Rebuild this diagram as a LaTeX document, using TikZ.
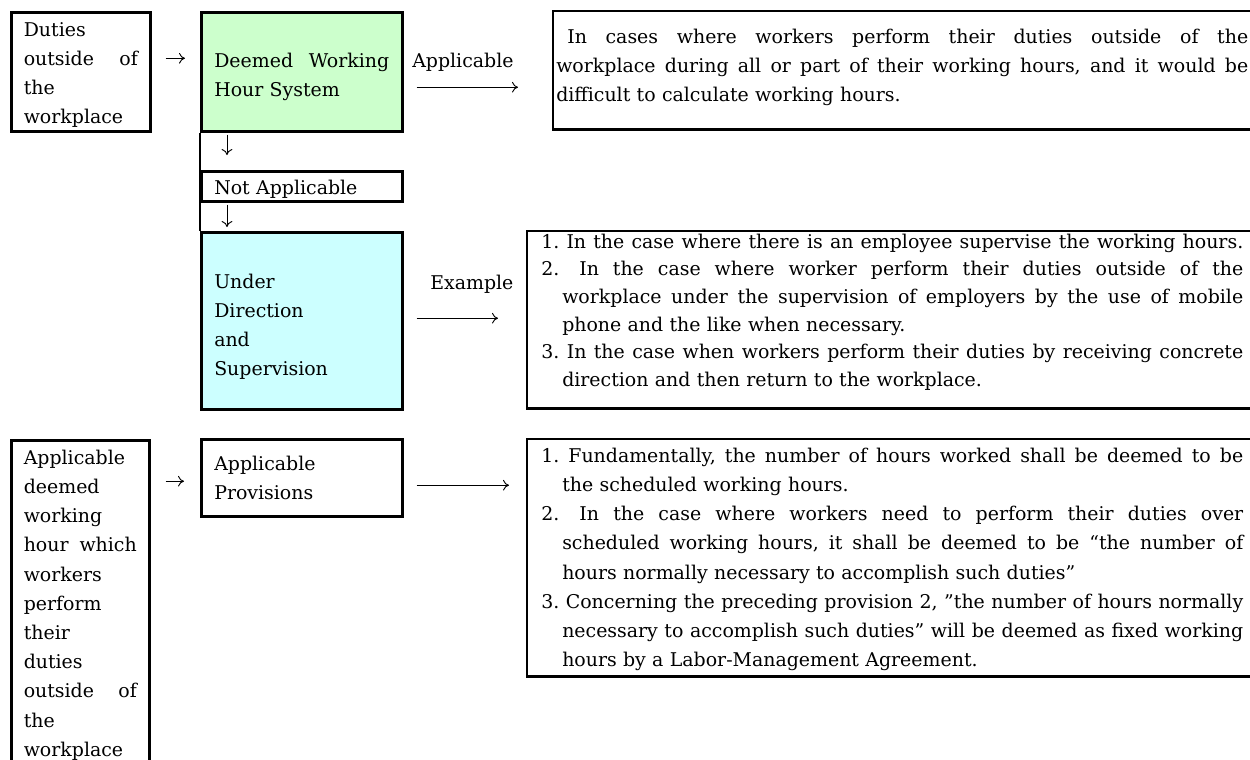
\documentclass[tikz,border=0pt]{standalone}
\usepackage{fontspec}
\setmainfont{DejaVu Serif}
\usetikzlibrary{arrows.meta}

\definecolor{deemedgreen}{RGB}{204,255,204}
\definecolor{superviscyan}{RGB}{204,255,255}

% body text: one size, two line pitches
\newcommand\bodyfont{\fontsize{14.2pt}{21.9pt}\selectfont}
\newcommand\listfont{\fontsize{14.2pt}{20.7pt}\selectfont}

% one printed line per call: full (justified) or natural width,
% optionally with the hanging indent of a numbered item.
% Node text uses fixed word spaces, so justified lines get their own stretch.
\newcommand\hangw{15.75pt}
\newcommand\stretchspaces{\frenchspacing\spaceskip=0.318em plus 1fil minus 0.08em\xspaceskip=\spaceskip}
\newcommand\jfull[1]{\noindent\hbox to\hsize{\stretchspaces\relax #1}\par}
\newcommand\jnat[1]{\noindent\hbox{#1}\par}
\newcommand\jhfull[1]{\noindent\hbox to\hsize{\stretchspaces\hskip\hangw\relax #1}\par}
\newcommand\jhnat[1]{\noindent\hbox{\hskip\hangw\relax #1}\par}
% the wider gap after some item numbers
\newcommand\numgap{\kern4.5pt\ }

\tikzset{
  frameline/.style={line width=1.9pt, line join=miter},
  boxnode/.style={draw, frameline, inner ysep=0pt, anchor=north west, font=\bodyfont},
  leftcol/.style={boxnode, text width=85.5pt, inner xsep=9.375pt},
  midcol/.style={boxnode, text width=131.25pt, inner xsep=9.75pt},
  notebox/.style={inner ysep=0pt, anchor=north west, font=\bodyfont},
  lbl/.style={inner sep=0pt, anchor=base west, font=\bodyfont},
  flow/.style={line width=0.7pt, -{Computer Modern Rightarrow[length=4.5pt,width=8pt]}},
}

\begin{document}
\begin{tikzpicture}[x=0.75pt, y=-0.75pt]
\useasboundingbox (0,0) rectangle (1250,760);
\clip (0,0) rectangle (1250,760);

% ---- upper flow -------------------------------------------------
\node[leftcol, text height=18pt, text depth=71.25pt] (duties) at (10,11)
  {\jnat{Duties}\jfull{outside of}\jnat{the}\jnat{workplace}};

\node[midcol, fill=deemedgreen, text height=41.25pt, text depth=48pt] (deemed) at (200,11)
  {\jfull{Deemed Working}\jnat{Hour System}};

\node[midcol, text height=17.25pt, text depth=5.25pt] (notapp) at (200,170)
  {\jnat{Not Applicable}};

\node[midcol, fill=superviscyan, text height=42pt, text depth=90.75pt] (supervision) at (200,231)
  {\jnat{Under}\jnat{Direction}\jnat{and}\jnat{Supervision}};

\node[notebox, text width=519pt, inner xsep=2.25pt, text height=24pt, text depth=64.5pt] (scope) at (553,11)
  {\jfull{\hskip 8.25pt\relax In cases where workers perform their duties outside of the}
   \jfull{workplace during all or part of their working hours, and it would be}
   \jnat{difficult to calculate working hours.}};

\node[notebox, font=\listfont, text width=526.5pt, inner xsep=10.5pt, text height=12.75pt, text depth=120pt] (examples) at (527,231)
  {\jfull{1. In the case where there is an employee supervise the working hours.}
   \jfull{2.\numgap In the case where worker perform their duties outside of the}
   \jhfull{workplace under the supervision of employers by the use of mobile}
   \jhnat{phone and the like when necessary.}
   \jfull{3. In the case when workers perform their duties by receiving concrete}
   \jhnat{direction and then return to the workplace.}};

\node[lbl] (applbl) at (412,67) {Applicable};
\node[lbl] (exlbl) at (430,289) {Example};

% ---- lower flow -------------------------------------------------
\node[leftcol, text width=84.75pt, text height=18pt, text depth=300pt] (applies) at (10,439)
  {\jnat{Applicable}\jnat{deemed}\jnat{working}\jfull{hour which}\jnat{workers}\jnat{perform}
   \jnat{their}\jnat{duties}\jfull{outside of}\jnat{the}\jnat{workplace}};

\node[midcol, text height=23.25pt, text depth=34.5pt] (provisions) at (200,438)
  {\jnat{Applicable}\jnat{Provisions}};

\node[notebox, text width=526.5pt, inner xsep=10.5pt, text height=17.25pt, text depth=160.5pt] (rules) at (527,439)
  {\jfull{1. Fundamentally, the number of hours worked shall be deemed to be}
   \jhnat{the scheduled working hours.}
   \jfull{2.\numgap In the case where workers need to perform their duties over}
   \jhfull{scheduled working hours, it shall be deemed to be “the number of}
   \jhnat{hours normally necessary to accomplish such duties”}
   \jfull{3. Concerning the preceding provision 2, ”the number of hours normally}
   \jhfull{necessary to accomplish such duties” will be deemed as fixed working}
   \jhnat{hours by a Labor-Management Agreement.}};

% open frames of the text panels (they run on past the right edge)
\foreach \panel in {scope, examples, rules}
  \draw[frameline] ([xshift=30pt]\panel.north east) -- (\panel.north west)
    -- (\panel.south west) -- ([xshift=30pt]\panel.south east);

% left rule joining the decision column
\draw[frameline] (deemed.south west) -- (supervision.north west);

% ---- connectors -------------------------------------------------
\draw[flow, shorten <=10.5pt, shorten >=11.25pt]
  ([yshift=10.1pt]duties.east) -- ([yshift=10.1pt]deemed.west);
\draw[flow, shorten <=9.75pt, shorten >=26.25pt]
  ([yshift=-11.6pt]deemed.east) -- ([yshift=-11.6pt]deemed.east -| scope.west);
\draw[flow, shorten <=1.5pt, shorten >=11.25pt]
  ([xshift=20.25pt]deemed.south west) -- ([xshift=20.25pt]notapp.north west);
\draw[flow, shorten <=1.5pt, shorten >=3pt]
  ([xshift=20.25pt]notapp.south west) -- ([xshift=20.25pt]supervision.north west);
\draw[flow, shorten <=9.75pt, shorten >=21.75pt]
  ([yshift=1.9pt]supervision.east) -- ([yshift=1.9pt]supervision.east -| examples.west);
\draw[flow, shorten <=11.25pt, shorten >=12pt]
  ([yshift=-2.6pt]provisions.west -| applies.east) -- ([yshift=-2.6pt]provisions.west);
\draw[flow, shorten <=9.75pt, shorten >=13.5pt]
  ([yshift=-5.6pt]provisions.east) -- ([yshift=-5.6pt]provisions.east -| rules.west);
\end{tikzpicture}
\end{document}
